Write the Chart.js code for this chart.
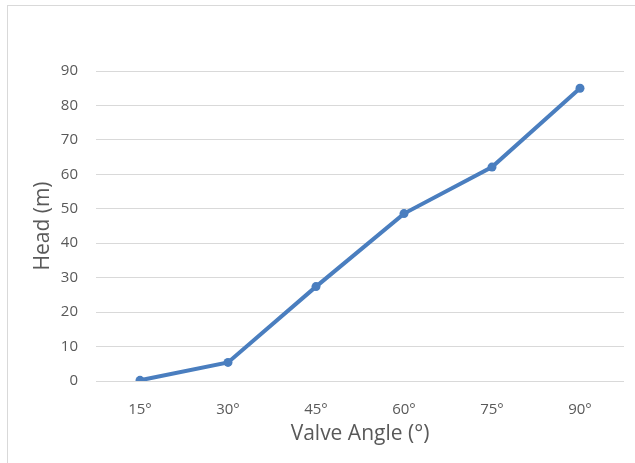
<!DOCTYPE html>
<html lang="en">
<head>
    <meta charset="UTF-8">
    <title>Head vs Valve Angle</title>
    <style>
        body {
            margin: 0;
            padding: 0;
            background-color: #fff;
            width: 635px;
            height: 463px;
            overflow: hidden;
            position: relative;
        }
        /* light frame of the chart, only top and left show in the crop */
        .frame {
            position: absolute;
            left: 7px;
            top: 5px;
            right: -10px;
            bottom: -10px;
            border: 1px solid #d9d9d9;
        }
        #chart {
            position: absolute;
            left: 0;
            top: 0;
        }
    </style>
</head>
<body>
    <div class="frame"></div>
    <canvas id="chart" width="635" height="463"></canvas>

    <script src="https://cdn.jsdelivr.net/npm/chart.js"></script>
    <script>
        // data
        const angleLabels = ['15°', '30°', '45°', '60°', '75°', '90°'];
        const headValues = [0.2, 5.4, 27.4, 48.6, 62.1, 85.0];

        const yMin = 0;
        const yMax = 90;
        const yStep = 10;

        const lineColor = '#4a7ebf';
        const textColor = '#595959';
        const gridColor = '#d9d9d9';
        const fontFamily = '"Open Sans", "Liberation Sans", Arial, sans-serif';

        const ctx = document.getElementById('chart').getContext('2d');
        new Chart(ctx, {
            type: 'line',
            data: {
                labels: angleLabels,
                datasets: [{
                    label: 'Head (m)',
                    data: headValues,
                    borderColor: lineColor,
                    backgroundColor: lineColor,
                    borderWidth: 4,
                    pointRadius: 4.5,
                    pointBorderWidth: 0,
                    pointBackgroundColor: lineColor,
                    fill: false,
                    tension: 0
                }]
            },
            options: {
                responsive: false,
                animation: false,
                layout: {
                    padding: { top: 71, right: 11, bottom: 0, left: 0 }
                },
                plugins: {
                    legend: { display: false },
                    tooltip: { enabled: false }
                },
                scales: {
                    x: {
                        offset: true,
                        grid: { display: false, drawTicks: false },
                        border: { display: false },
                        ticks: {
                            color: textColor,
                            font: { family: fontFamily, size: 15 },
                            padding: 20,
                            maxRotation: 0
                        },
                        title: {
                            display: true,
                            text: 'Valve Angle (°)',
                            color: textColor,
                            font: { family: fontFamily, size: 21 },
                            padding: { top: 0, bottom: 16 }
                        },
                        afterFit: function (scale) {
                            scale.height = 82;
                        }
                    },
                    y: {
                        min: yMin,
                        max: yMax,
                        grid: {
                            color: gridColor,
                            lineWidth: 1,
                            drawTicks: false
                        },
                        border: { display: false },
                        ticks: {
                            stepSize: yStep,
                            color: textColor,
                            font: { family: fontFamily, size: 15 },
                            padding: 18
                        },
                        title: {
                            display: true,
                            text: 'Head (m)',
                            color: textColor,
                            font: { family: fontFamily, size: 21 },
                            padding: { top: 30, bottom: 0 }
                        },
                        afterFit: function (scale) {
                            scale.width = 96;
                        }
                    }
                }
            }
        });
    </script>
</body>
</html>
